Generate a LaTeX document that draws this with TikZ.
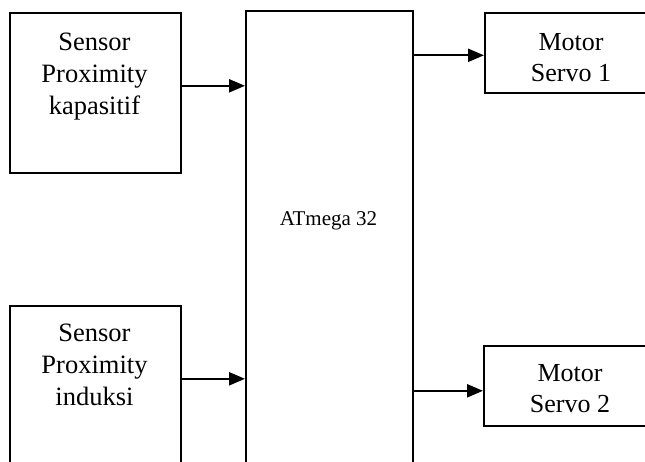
\documentclass[tikz,border=0pt]{standalone}
\usepackage{fontspec}
\setmainfont{Liberation Serif}
\usetikzlibrary{arrows.meta,calc}
\begin{document}
\begin{tikzpicture}[x=1pt,y=-1pt,
  box/.style={draw,line width=1.6pt,rectangle,anchor=north west,inner sep=0pt},
  lbl/.style={align=center,font=\fontsize{26.5}{32}\selectfont,inner sep=0pt,anchor=north},
  mlbl/.style={align=center,font=\fontsize{26}{30.5}\selectfont,inner sep=0pt,anchor=north},
  arr/.style={line width=2.3pt,-{Triangle[length=16pt,width=13pt]}}]
\useasboundingbox (0,0) rectangle (645,461);
\clip (0,0) rectangle (645,461);
\node[box,minimum width=171pt,minimum height=160pt] (s1) at (9,12) {};
\node[lbl] (t1) at (94.5,32.5) {Sensor\\Proximity\\kapasitif};
\node[box,minimum width=171pt,minimum height=170pt] (s2) at (9,305) {};
\node[lbl] (t2) at (94.5,324) {Sensor\\Proximity\\induksi};
\node[box,minimum width=167pt,minimum height=470pt] (mcu) at (245,10) {};
\node[font=\fontsize{21}{25}\selectfont,anchor=base,inner sep=0pt] (t3) at (328.5,225) {ATmega 32};
\node[box,minimum width=174pt,minimum height=80pt] (m1) at (484,12) {};
\node[mlbl] (t4) at (571,33.5) {Motor\\Servo 1};
\node[box,minimum width=174pt,minimum height=80pt] (m2) at (483,345) {};
\node[mlbl] (t5) at (570,364.5) {Motor\\Servo 2};
\coordinate (a1) at ($(s1.east)+(0,-7)$);
\coordinate (a2) at ($(s2.east)+(0,-12)$);
\coordinate (a3) at ($(m1.west)+(0,2.5)$);
\coordinate (a4) at ($(m2.west)+(0,5)$);
\draw[arr] (a1) -- (a1 -| mcu.west);
\draw[arr] (a2) -- (a2 -| mcu.west);
\draw[arr] (a3 -| mcu.east) -- (a3);
\draw[arr] (a4 -| mcu.east) -- (a4);
\end{tikzpicture}
\end{document}
